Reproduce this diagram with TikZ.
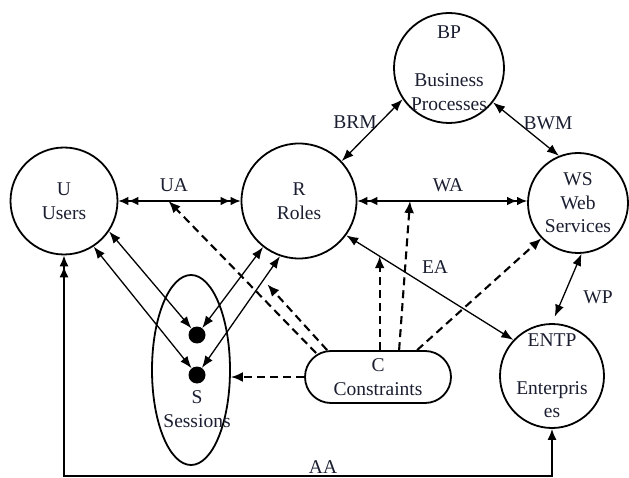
\documentclass[tikz,border=0pt]{standalone}
\usepackage{fontspec}
\setmainfont{Liberation Serif}
\usetikzlibrary{arrows.meta,calc,shapes.geometric}

\definecolor{ink}{HTML}{1A1E30}

\tikzset{
  txt/.style={font=\fontsize{19.5}{23.5}\selectfont, text=ink, align=center},
  ent/.style={circle, draw=black, line width=1.8pt, inner sep=0pt},
  blob/.style={circle, fill=black, inner sep=0pt, minimum size=17pt},
  link/.style={line width=1.3pt, draw=black},
  both/.style={link, >={Latex[length=12pt,width=9pt]}, <->},
  dbl/.style={link, >={Latex[length=10pt,width=8.5pt]}, <<->>},
  cons/.style={line width=2.1pt, dash pattern=on 8pt off 5pt,
               >={Latex[length=12pt,width=10pt]}, ->},
}

\begin{document}
\begin{tikzpicture}[x=1pt,y=-1pt]
\useasboundingbox (0,0) rectangle (629,478);

% entity sets
\node[ent, minimum size=107pt, label={[txt]center:U\\Users}] (U) at (64,201) {};
\node[ent, minimum size=115pt, label={[txt]center:R\\Roles}] (R) at (299,201) {};
\node[ent, minimum size=110pt, label={[txt]center:BP\\[25pt]Business\\Processes}] (BP) at (449,68) {};
\node[ent, minimum size=100pt, label={[txt]center:WS\\Web\\Services}] (WS) at (578,203) {};
\node[ent, minimum size=104pt, label={[txt]center:ENTP\\[24pt]Enterpris\\es}] (ENTP) at (552,376) {};

% sessions
\node[ellipse, draw=black, line width=1.8pt, inner sep=0pt,
      minimum width=78pt, minimum height=190pt] (S) at (191,370) {};
\node[txt] (Stext) at (197,409) {S\\Sessions};
\node[blob] (d1) at (197,335) {};
\node[blob] (d2) at (197,375) {};

% constraints
\node[txt, draw=black, line width=1.8pt, rounded corners=26pt, inner sep=0pt,
      minimum width=146pt, minimum height=52pt] (C) at (378,377) {C\\Constraints};

% relations
\draw[dbl] (U.east) -- (R.west);
\draw[dbl] (R.east) -- (R.east -| WS.west);
\draw[both] (R.43) -- (BP.-146);
\draw[both] (BP.-38) -- (WS.112);
\draw[both, shorten >=7pt] (WS.-86) -- (ENTP.north);
\draw[both] (R.-36) -- (ENTP.137);
\draw[both] (U.-34) -- (d1);
\draw[both] (U.-57) -- (d2);
\draw[both] (R.-128) -- (d1);
\draw[both] (R.-109) -- (d2);

% user to enterprise assignment
\coordinate (aa) at (0,476);
\draw[link, line width=1.5pt, >={Latex[length=11pt,width=9pt]}, <<->]
  (U.south) -- (U.south |- aa) -| (ENTP.south);

% points on the relation lines that constraints act on
\coordinate (ua) at ($(U.east)!0.41!(R.west)$);
\coordinate (rs) at ($(R.-109)!0.2!(d2)$);
\coordinate (ea) at ($(R.-36)!0.2!(ENTP.137)$);
\coordinate (wa) at ($(R.east)!0.31!(R.east -| WS.west)$);

% constraints
\draw[cons] ($(C.north west)+(12,3)$) -- (ua);
\draw[cons, shorten >=6pt] ($(C.north west)+(23,0)$) -- (rs);
\draw[cons] (ea |- C.north) -- (ea);
\draw[cons] ($(C.north west)+(95,0)$) -- (wa);
\draw[cons] ($(C.north west)+(113,0)$) -- (WS.-136);
\draw[cons] (C.west) -- (C.west -| S.east);

% relation labels
\node[txt] (lUA) at (174,185) {UA};
\node[txt] (lWA) at (448,185) {WA};
\node[txt] (lBRM) at (355,122) {BRM};
\node[txt] (lBWM) at (548,123) {BWM};
\node[txt] (lEA) at (435,267) {EA};
\node[txt] (lWP) at (598,297) {WP};
\node[txt] (lAA) at (323,467) {AA};
\end{tikzpicture}
\end{document}
